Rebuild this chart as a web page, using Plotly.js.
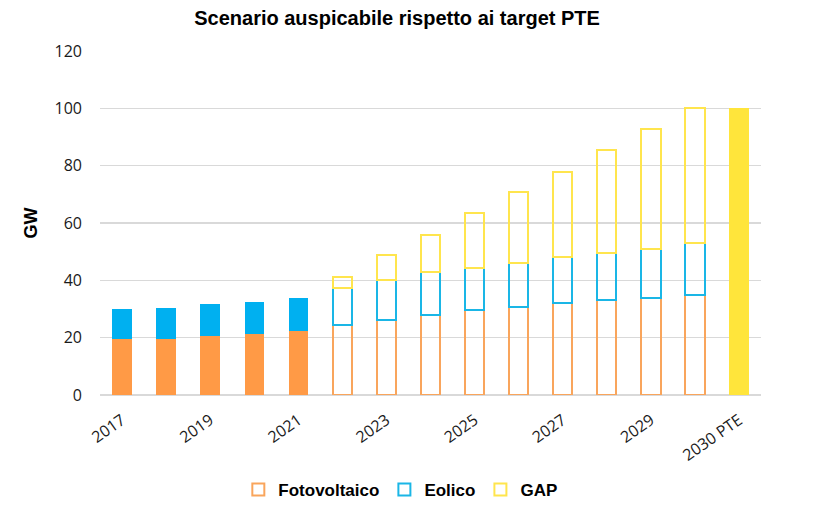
<!DOCTYPE html>
<html>
<head>
<meta charset="utf-8">
<script src="https://cdn.plot.ly/plotly-3.0.1.min.js"></script>
<style>html,body{margin:0;padding:0;background:#fff;}#chart{width:817px;height:514px;}</style>
</head>
<body>
<div id="chart"></div>
<script>
const categories = ['2017','2018','2019','2020','2021','2022','2023','2024','2025','2026','2027','2028','2029','2030','2030 PTE'];
const fotovoltaico = [19.5,19.5,20.7,21.3,22.4,24.4,26.2,27.9,29.7,30.8,32.1,33.1,33.7,34.8,null];
const eolico       = [10.5,11.0,11.0,11.0,11.5,12.8,13.9,15.1,14.6,15.3,16.1,16.4,17.4,18.2,null];
const gap          = [null,null,null,null,null,4.0,8.7,12.9,19.1,24.7,29.6,35.9,41.8,47.0,100];
const tickLabels = ['2017','2019','2021','2023','2025','2027','2029','2030 PTE'];

const HIST = [0,5];   // historical (filled)
const PROJ = [5,14];  // projection (outlined)
const PTE  = [14,15]; // target

const colors = {
  foto: {fill:'#FF9A46', line:'#F9A55C'},
  eol:  {fill:'#00B0F0', line:'#1AB6E6'},
  gap:  {fill:'#FFE53B', line:'#FFE54D'}
};

function sl(arr, r){ return arr.slice(r[0], r[1]); }

function filled(name, vals, r, c){
  return {type:'bar', name:'<b>'+name+'</b>', x:sl(categories,r), y:sl(vals,r), showlegend:false,
    marker:{color:c.fill, line:{width:0}}, hoverinfo:'x+y+name'};
}
function hollow(name, vals, r, c){
  return {type:'bar', name:'<b>'+name+'</b>', x:sl(categories,r), y:sl(vals,r), showlegend:true,
    marker:{color:'rgba(255,255,255,0)', line:{color:c.line, width:2}}, hoverinfo:'x+y+name'};
}

const data = [
  filled('Fotovoltaico', fotovoltaico, HIST, colors.foto),
  hollow('Fotovoltaico', fotovoltaico, PROJ, colors.foto),
  filled('Eolico', eolico, HIST, colors.eol),
  hollow('Eolico', eolico, PROJ, colors.eol),
  hollow('GAP', gap, PROJ, colors.gap),
  filled('GAP', gap, PTE, colors.gap)
];

const layout = {
  width:817, height:514,
  margin:{l:100, r:56, t:51, b:119},
  paper_bgcolor:'#fff', plot_bgcolor:'#fff',
  barmode:'stack', bargap:0.56,
  font:{family:'"Open Sans", "Liberation Sans", Arial, sans-serif', size:15, color:'#1a1a1a'},
  title:{text:'<b>Scenario auspicabile rispetto ai target PTE</b>',
    font:{family:'"Liberation Sans Narrow", "Liberation Sans", Arial, sans-serif', size:20, color:'#000'},
    x:0.486, xref:'container', xanchor:'center', y:0.965, yref:'container', yanchor:'middle'},
  xaxis:{type:'category', categoryorder:'array', categoryarray:categories,
    range:[-0.5,14.5], tickmode:'array', tickvals:tickLabels, ticktext:tickLabels,
    tickangle:-35, showgrid:false, zeroline:false, showline:false, ticks:'',
    ticklabelstandoff:12, tickfont:{size:16, color:'#1a1a1a'}},
  yaxis:{range:[0,120], dtick:20, tick0:0, showgrid:true, gridcolor:'#d9d9d9', gridwidth:1.5,
    zeroline:true, zerolinecolor:'#d9d9d9', zerolinewidth:1.5, showline:false, ticks:'',
    ticklabelstandoff:17, tickfont:{size:16, color:'#1a1a1a'},
    title:{text:'<b>GW</b>', font:{family:'"Liberation Sans", Arial, sans-serif', size:18, color:'#000'}, standoff:12}},
  legend:{orientation:'h', traceorder:'normal', xref:'container', yref:'container',
    x:0.49, xanchor:'center', y:0.047, yanchor:'middle',
    font:{family:'"Liberation Sans Narrow", "Liberation Sans", Arial, sans-serif', size:17, color:'#000'},
    itemwidth:20, tracegroupgap:0},
  showlegend:true
};

Plotly.newPlot('chart', data, layout, {displayModeBar:false, staticPlot:true});
</script>
</body>
</html>
